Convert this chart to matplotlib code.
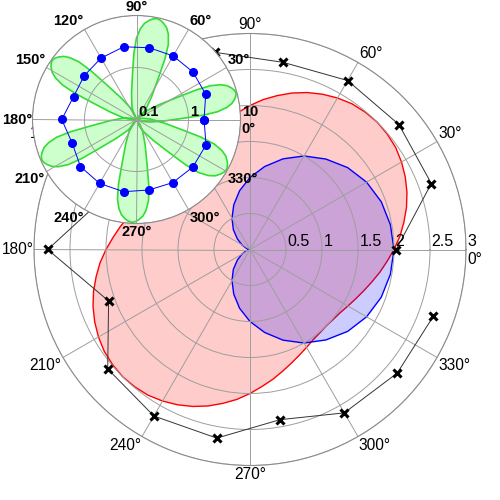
import numpy as np
import matplotlib.pyplot as plt

plt.rcParams['font.family'] = ['Liberation Sans', 'DejaVu Sans']

# main chart: red outline every 5 degrees (the shape repeats after 180 degrees)
red_deg = list(range(0, 360, 5))
red_half = [2.00, 2.09, 2.17, 2.25, 2.32, 2.38, 2.43, 2.47, 2.49,
            2.50, 2.49, 2.47, 2.43, 2.38, 2.32, 2.25, 2.17, 2.09,
            2.00, 1.91, 1.83, 1.75, 1.68, 1.62, 1.57, 1.53, 1.51,
            1.50, 1.51, 1.53, 1.57, 1.62, 1.68, 1.75, 1.83, 1.91]
red_r = red_half * 2

# blue outline every 10 degrees
blue_deg = list(range(0, 360, 10))
blue_r = [2.00, 1.98, 1.94, 1.87, 1.77, 1.64, 1.50, 1.34, 1.17,
          1.00, 0.83, 0.66, 0.50, 0.36, 0.23, 0.13, 0.06, 0.02,
          0.00, 0.02, 0.06, 0.13, 0.23, 0.36, 0.50, 0.66, 0.83,
          1.00, 1.17, 1.34, 1.50, 1.64, 1.77, 1.87, 1.94, 1.98]

# black line with crosses, every 20 degrees
cross_deg = list(range(0, 360, 20))
cross_r = [2.03, 2.68, 2.70, 2.71, 2.64, 2.78, 2.60, 2.50, 2.14,
           2.81, 2.09, 2.58, 2.67, 2.66, 2.40, 2.62, 2.67, 2.71]

main_ticks = [0.5, 1, 1.5, 2, 2.5, 3]
main_tick_labels = ['0.5', '1', '1.5', '2', '2.5', '3']
angle_ticks = list(range(0, 360, 30))

# inset (log radius): blue dots every 20 degrees
dot_deg = list(range(0, 360, 20))
dot_r = [1.99, 2.61, 2.62, 2.58, 2.52, 2.63, 2.31, 2.05, 1.94,
         2.74, 2.08, 2.55, 2.63, 2.57, 2.38, 2.51, 2.62, 2.65]

# green petals: centre angle, half width (deg) and one petal outline
petal_deg = [78.5, 15, -29, -92.5, -157, 145]
petal_half = [11.5, 9.5, 11.5, 11, 10.5, 10]
side_off = [3.42, 2.68, 1.93, 1.42, 1.19, 1.0, 0.78, 0.58, 0.35, 0.18]
side_r = [0.133, 0.185, 0.329, 0.794, 1.93, 3.71, 5.65, 7.21, 8.45, 9.18]
tip_r = 9.57
profile_off = [0] + [-f for f in side_off] + [0] + side_off[::-1] + [0]
profile_r = [0.1] + side_r + [tip_r] + side_r[::-1] + [0.1]

inset_ticks = [0.1, 1, 10]
inset_tick_labels = ['0.1', '1', '10']


def angle_labels(ax, r_edge, size, weight):
    for a in angle_ticks:
        c, s = np.cos(np.radians(a)), np.sin(np.radians(a))
        ha = 'left' if c > 0.01 else 'right' if c < -0.01 else 'center'
        va = 'bottom' if s > 0.01 else 'top' if s < -0.01 else 'center'
        off = (1.2 * c, 1.2 * s)
        if a == 0:
            va = 'top'
            off = (0.8, -2)
        if a == 180:
            off = (0, 0)
        ax.annotate(f'{a}°', xy=(np.radians(a), r_edge), xytext=off,
                    textcoords='offset points', ha=ha, va=va,
                    fontsize=size, fontweight=weight, annotation_clip=False)


def radius_labels(ax, ticks, labels, size, weight):
    for r, lab in zip(ticks, labels):
        ax.annotate(lab, xy=(0, r), xytext=(1, 0), textcoords='offset points',
                    ha='left', va='bottom', fontsize=size, fontweight=weight,
                    annotation_clip=False)


def style_axes(ax, rticks):
    ax.set_xticks(np.radians(angle_ticks))
    ax.set_xticklabels([])
    ax.set_yticks(rticks)
    ax.set_yticklabels([])
    ax.tick_params(length=0)
    ax.grid(True, color='0.62', lw=0.7)
    ax.spines['polar'].set_color('0.55')
    ax.spines['polar'].set_linewidth(0.8)


fig = plt.figure(figsize=(5, 5), dpi=100)

ax = fig.add_axes([0.068, 0.069, 0.864, 0.864], projection='polar')
ax.fill(np.radians(red_deg), red_r, facecolor=(1, 0, 0, 0.2),
        edgecolor='red', lw=1.0)
ax.fill(np.radians(blue_deg), blue_r, facecolor=(0, 0, 1, 0.2),
        edgecolor='blue', lw=1.0)
ax.plot(np.radians(cross_deg), cross_r, color='0.2', lw=0.7, marker='x',
        ms=5.5, mew=2.2, mec='black')
ax.set_rlim(0, 3)
style_axes(ax, main_ticks)
angle_labels(ax, 3, 11.2, 'normal')
radius_labels(ax, main_ticks, main_tick_labels, 11.5, 'normal')

# inset
ax2 = fig.add_axes([0.065, 0.553, 0.416, 0.416], projection='polar')
ax2.set_facecolor('white')
ax2.set_rscale('log')
ax2.set_rlim(0.1, 10)
petal_t, petal_r = [], []
for c, w in zip(petal_deg, petal_half):
    petal_t += [np.radians(c + f * w) for f in profile_off]
    petal_r += profile_r
ax2.fill(petal_t, petal_r, facecolor=(0, 1, 0, 0.2), edgecolor='#33dd33',
         lw=1.2)
ax2.plot(np.radians(dot_deg + dot_deg[:1]), dot_r + dot_r[:1], color='blue',
         lw=0.7, marker='o', ms=5.5)
style_axes(ax2, inset_ticks)
ax2.set_rlim(0.1, 10)
angle_labels(ax2, 10, 10.5, 'bold')
radius_labels(ax2, inset_ticks, inset_tick_labels, 10.5, 'bold')

fig.savefig('out.png', dpi=100)
